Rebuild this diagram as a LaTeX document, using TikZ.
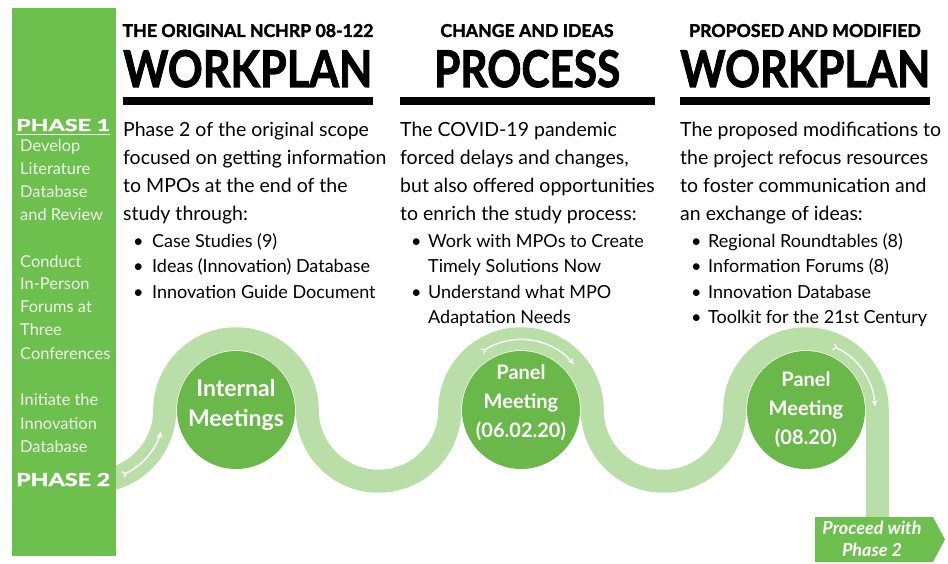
\documentclass[tikz,border=0pt]{standalone}
\usepackage{fontspec}
\setmainfont{Lato}
\newfontfamily\heavy[BoldFeatures={FakeBold=2}]{Lato}
\usetikzlibrary{arrows.meta}
\definecolor{bargreen}{RGB}{110,192,78}
\definecolor{circgreen}{RGB}{106,184,74}
\definecolor{bandgreen}{RGB}{186,222,168}
\definecolor{bartext}{RGB}{238,247,233}
\tikzset{
  band/.style={draw=bandgreen,line width=23pt},
  circ/.style={circle,fill=circgreen,minimum size=118pt,inner sep=0pt},
  body/.style={anchor=base west,inner sep=0pt,font=\fontsize{19.5}{22}\selectfont},
  bul/.style={anchor=base west,inner sep=0pt,font=\fontsize{18}{20}\selectfont},
  bartxt/.style={anchor=base west,inner sep=0pt,text=bartext,font=\fontsize{16.4}{18}\selectfont},
  sub/.style={anchor=base,inner sep=0pt,font=\fontsize{17.7}{20}\selectfont\heavy\bfseries},
  big/.style={anchor=base west,inner sep=0pt,font=\heavy\bfseries},
  ctext/.style={text=white,font=\fontsize{23}{30}\selectfont\bfseries,align=center},
  ptext/.style={text=white,font=\fontsize{20}{29}\selectfont\bfseries,align=center},
  flow/.style={draw=white,line width=1.4pt,{Straight Barb[reversed,length=3pt,width=6pt]}-{Stealth[length=6pt,width=6pt]}},
  phase/.style={anchor=base west,inner sep=0pt,text=white,font=\heavy\bfseries},
}
\begin{document}
\begin{tikzpicture}[x=1pt,y=1pt]
\useasboundingbox (0,0) rectangle (948,563);
% wave band
\draw[band] (93.5,153) ++(-90:71.25)
  arc[start angle=-90,end angle=0,radius=71.25]
  arc[start angle=180,end angle=0,radius=71.25]
  arc[start angle=180,end angle=360,radius=71.25]
  arc[start angle=180,end angle=0,radius=71.25]
  arc[start angle=180,end angle=360,radius=71.25]
  arc[start angle=180,end angle=0,radius=71.25]
  -- (877.25,44) coordinate (bandend);
% left bar
\fill[bargreen] (12,555) rectangle (116,7);
% circles
\node[circ] (c1) at (236,153) {};
\node[circ] (c2) at (521,153) {};
\node[circ] (c3) at (806,153) {};
\node[ctext] (t1) at (236,158) {Internal\\Meetings};
\node[ptext] (t2) at (521,160) {Panel\\Meeting\\(06.02.20)};
\node[ptext] (t3) at (806,153) {Panel\\Meeting\\(08.20)};
% flow arrows
\draw[flow] (93.5,153) ++(-66:71) arc[start angle=-66,end angle=-18,radius=71];
\draw[flow] (521,153) ++(124:70) arc[start angle=124,end angle=41,radius=70];
\draw[flow] (806,153) ++(67:69) arc[start angle=67,end angle=3,radius=69];
% proceed arrow
\fill[bargreen] (815,46) -- (933,46) -- (945,23.5) -- (933,1) -- (815,1) -- cycle;
\node[text=white,font=\fontsize{18}{22}\selectfont\bfseries\itshape,align=center] (proc) at (872,24) {Proceed with\\Phase 2};
% bar texts
\node[phase] (p1) at (16,563-131) {\resizebox{94pt}{12pt}{PHASE 1}};
\draw[white,line width=1pt] (16,563-135) -- (110,563-135);
\foreach \yy/\txt [count=\i] in {152/Develop,175/Literature,198/Database,221/and Review,268/Conduct,290/In-Person,313/Forums at,336/Three,359/Conferences,405/Initiate the,429/Innovation,452/Database}
  \node[bartxt] (b\i) at (20,563-\yy) {\txt};
\node[phase] (p2) at (16,563-486) {\resizebox{94pt}{13pt}{PHASE 2}};
% headers
\node[sub] (h1) at (248,563-37) {THE ORIGINAL NCHRP 08-122};
\node[sub] (h2) at (527,563-37) {CHANGE AND IDEAS};
\node[sub] (h3) at (805,563-37) {PROPOSED AND MODIFIED};
\node[big] (w1) at (123,563-87) {\resizebox{249pt}{37pt}{WORKPLAN}};
\node[big] (w2) at (434,563-87) {\resizebox{186pt}{37pt}{PROCESS}};
\node[big] (w3) at (680,563-87) {\resizebox{250pt}{37pt}{WORKPLAN}};
\fill[black] (123,563-97) rectangle (373,563-105);
\fill[black] (400,563-97) rectangle (655,563-105);
\fill[black] (680,563-97) rectangle (930,563-105);
% column 1
\foreach \yy/\txt [count=\i] in {137/{Phase 2 of the original scope},165/{focused on getting information},193/{to MPOs at the end of the},221/{study through:}}
  \node[body] (a\i) at (123,563-\yy) {\txt};
\foreach \yy/\txt [count=\i] in {248/{Case Studies (9)},273/{Ideas (Innovation) Database},299/{Innovation Guide Document}}
  {\node[bul] (ab\i) at (133,563-\yy) {\textbullet};
   \node[bul] (at\i) at (152,563-\yy) {\txt};}
% column 2
\foreach \yy/\txt [count=\i] in {137/{The COVID-19 pandemic},165/{forced delays and changes,},193/{but also offered opportunities},221/{to enrich the study process:}}
  \node[body] (m\i) at (400,563-\yy) {\txt};
\foreach \yy/\txt [count=\i] in {248/{Work with MPOs to Create},299/{Understand what MPO}}
  \node[bul] (mb\i) at (411,563-\yy) {\textbullet};
\foreach \yy/\txt [count=\i] in {248/{Work with MPOs to Create},273/{Timely Solutions Now},299/{Understand what MPO},324/{Adaptation Needs}}
  \node[bul] (mt\i) at (428,563-\yy) {\txt};
% column 3
\foreach \yy/\txt [count=\i] in {137/{The proposed modifications to},165/{the project refocus resources},193/{to foster communication and},221/{an exchange of ideas:}}
  \node[body] (r\i) at (680,563-\yy) {\txt};
\foreach \yy/\txt [count=\i] in {248/{Regional Roundtables (8)},273/{Information Forums (8)},299/{Innovation Database},324/{Toolkit for the 21st Century}}
  {\node[bul] (rb\i) at (691,563-\yy) {\textbullet};
   \node[bul] (rt\i) at (708,563-\yy) {\txt};}
\end{tikzpicture}
\end{document}
